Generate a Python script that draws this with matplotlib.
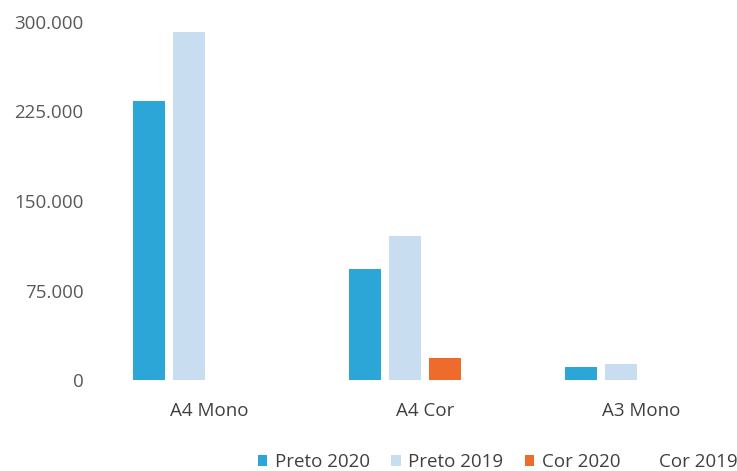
import matplotlib
matplotlib.use("Agg")
import matplotlib.pyplot as plt
import numpy as np

categories = ["A4 Mono", "A4 Cor", "A3 Mono"]
series_names = ["Preto 2020", "Preto 2019", "Cor 2020", "Cor 2019"]
preto_2020 = [234000, 93000, 11000]
preto_2019 = [292000, 121000, 13500]
cor_2020 = [0, 18500, 0]
cor_2019 = [0, 0, 0]
yticks = [0, 75000, 150000, 225000, 300000]
ytick_labels = ["0", "75.000", "150.000", "225.000", "300.000"]

colors = ["#2ba6d6", "#c8def0", "#ef6b2b", "#ffffff"]

plt.rcParams['font.family'] = ['Open Sans', 'DejaVu Sans']

fig = plt.figure(figsize=(7.37, 4.71), dpi=100)
ax = fig.add_axes([100/737, 1-380/471, 635/737, (380-22)/471])

x = np.arange(len(categories))
slot = 40/216
width = 32/216
data = [preto_2020, preto_2019, cor_2020, cor_2019]
handles = []
for i, (vals, name, c) in enumerate(zip(data, series_names, colors)):
    b = ax.bar(x + (i - 1.5) * slot, vals, width, color=c, label=name)
    handles.append(b)

ax.set_xlim(-0.505, 2.435)
ax.set_ylim(0, 300000)
ax.set_yticks(yticks)
ax.set_yticklabels(ytick_labels, fontsize=13.5, color="#595959")
ax.set_xticks(x)
ax.set_xticklabels(categories, fontsize=13.5, color="#404040")
ax.tick_params(axis='both', length=0)
ax.tick_params(axis='y', pad=12)
ax.tick_params(axis='x', pad=15.5)
for s in ax.spines.values():
    s.set_visible(False)

fig.legend(handles=handles, labels=series_names, loc='center',
           bbox_to_anchor=(0.675, 0.019), ncol=4, frameon=False,
           fontsize=13.5, handlelength=0.5, handleheight=0.5,
           handletextpad=0.4, columnspacing=1.15, labelcolor="#404040")

fig.savefig("out.png", dpi=100)
